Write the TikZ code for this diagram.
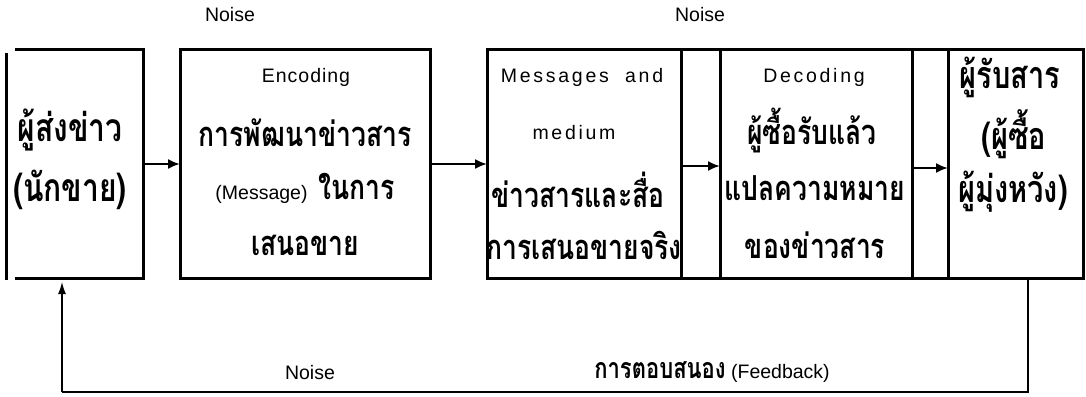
\documentclass[tikz,border=0pt]{standalone}
\usepackage{fontspec}
\setmainfont{Liberation Sans}
\newfontfamily\thaifont[Script=Thai]{Loma}
\usetikzlibrary{arrows.meta}
\newcommand\thx[2]{\scalebox{1}[1.3]{\thaifont\bfseries\fontsize{#1}{#1}\selectfont #2}}
\begin{document}
\begin{tikzpicture}[x=1pt,y=-1pt,
  box/.style={draw, line width=3pt, inner sep=0pt, outer sep=0pt},
  txt/.style={inner sep=0pt, font=\fontsize{19.5}{22}\selectfont},
  sp/.style={inner sep=0pt, font=\fontsize{19.5}{22}\selectfont\addfontfeature{LetterSpace=14}},
  arr/.style={-{Latex[length=12pt,width=10pt]}, line width=2pt},
  fb/.style={line width=1.3pt}]
\useasboundingbox (0,0) rectangle (1086,396);
% boxes
\node[inner sep=0pt, outer sep=0pt, minimum width=128pt, minimum height=228pt] (b1) at (79,164) {};
\draw[line width=3pt] (b1.north west) -- (b1.north east) -- (b1.south east) -- (b1.south west);
\draw[line width=3pt] ([xshift=-9pt,yshift=-3pt]b1.north west) -- ([xshift=-9pt,yshift=-2pt]b1.south west);
\node[box, minimum width=250pt, minimum height=228pt] (b2) at (305,164) {};
\node[box, minimum width=194pt, minimum height=228pt] (b3) at (584,164) {};
\node[box, minimum width=192pt, minimum height=228pt] (b4) at (816,164) {};
\node[box, minimum width=135pt, minimum height=228pt] (b5) at (1015.5,164) {};
\draw[line width=3pt] (b3.north east) -- (b4.north west);
\draw[line width=3pt] (b3.south east) -- (b4.south west);
\draw[line width=3pt] (b4.north east) -- (b5.north west);
\draw[line width=3pt] (b4.south east) -- (b5.south west);
% arrows
\draw[arr] (b1.east) -- (b2.west);
\draw[arr] (b2.east) -- (b3.west);
\draw[arr] ([yshift=-2pt]b3.east) -- ([yshift=-2pt]b4.west);
\draw[arr] ([yshift=-4pt]b4.east) -- ([yshift=-4pt]b5.west);
% feedback
\coordinate (f1) at (1028,392);
\coordinate (f2) at (62,392);
\draw[fb] (b5.south -| f1) -- (f1) -- (f2);
\draw[fb, -{Latex[length=12pt,width=8pt]}] (f2) -- ([yshift=-4pt]f2 |- b1.south);
% texts
\node[txt] (n1) at (230,15) {Noise};
\node[txt] (n2) at (700,15) {Noise};
\node[txt] (n3) at (310,373) {Noise};
\node[txt] (fbk) at (712,372) {\thx{22}{การตอบสนอง} (Feedback)};
\node[txt] (a1) at (70,130) {\thx{30}{ผู้ส่งข่าว}};
\node[txt] (a2) at (70,190) {\thx{30}{(นักขาย)}};
\node[txt, font=\fontsize{19.5}{22}\selectfont\addfontfeature{LetterSpace=5}] (c1) at (306,77) {Encoding};
\node[txt] (c2) at (305,133) {\thx{26.5}{การพัฒนาข่าวสาร}};
\node[txt] (c3) at (305,188) {(Message)\ \ \thx{26.5}{ในการ}};
\node[txt] (c4) at (305,245) {\thx{26.5}{เสนอขาย}};
\node[sp] (d1) at (582,77) {Messages\ \ and};
\node[sp] (d2) at (574,133) {medium};
\node[txt] (d3) at (578,190) {\thx{26.5}{ข่าวสารและสื่อ}};
\node[txt] (d4) at (584,245) {\thx{26.5}{การเสนอขายจริง}};
\node[sp] (e1) at (814,77) {Decoding};
\node[txt] (e2) at (812,130) {\thx{26.5}{ผู้ซื้อรับแล้ว}};
\node[txt] (e3) at (815,188) {\thx{26.5}{แปลความหมาย}};
\node[txt] (e4) at (815,245) {\thx{26.5}{ของข่าวสาร}};
\node[txt] (g1) at (1010,77) {\thx{29}{ผู้รับสาร}};
\node[txt] (g2) at (1014,134) {\thx{29}{(ผู้ซื้อ}};
\node[txt] (g3) at (1013,192) {\thx{29}{ผู้มุ่งหวัง)}};
\end{tikzpicture}
\end{document}
